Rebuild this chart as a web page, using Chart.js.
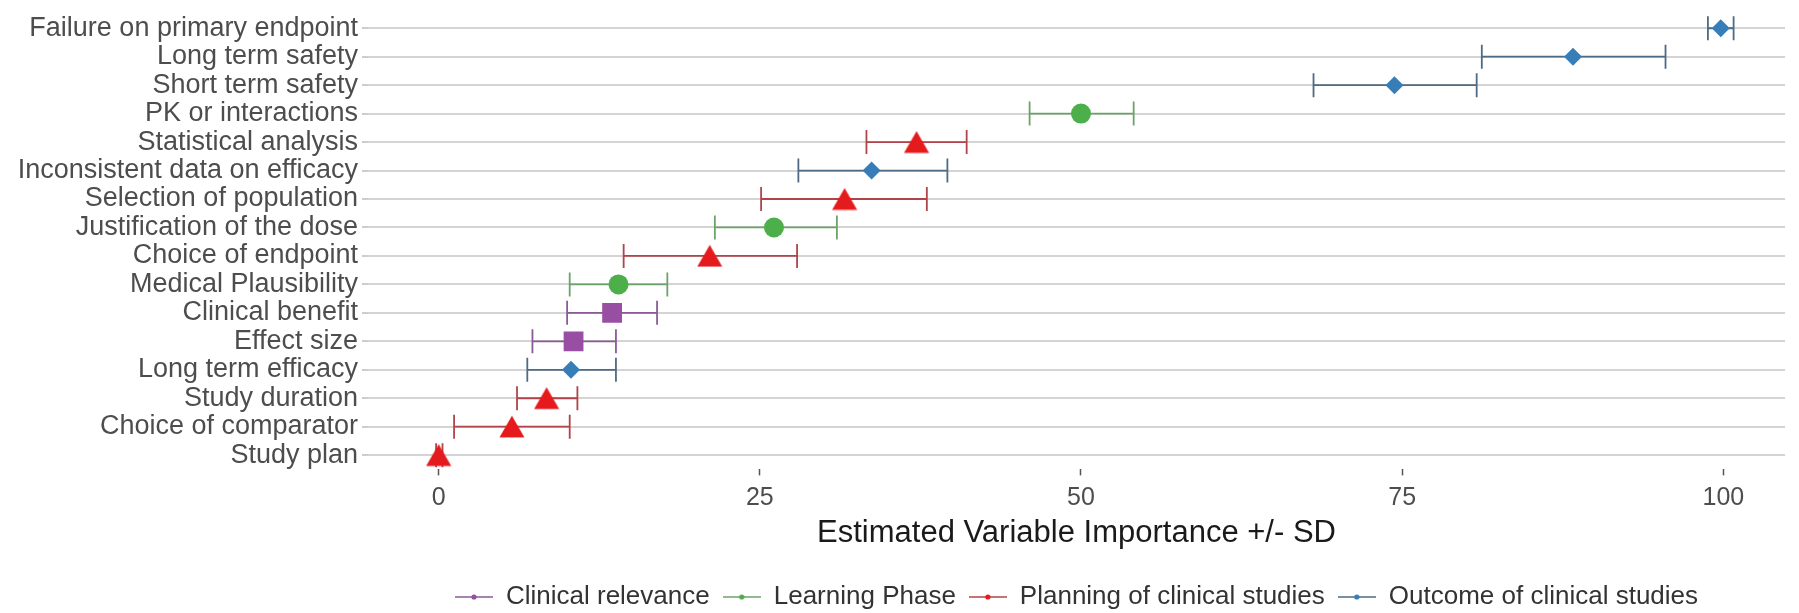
<!DOCTYPE html>
<html>
<head>
<meta charset="utf-8">
<script src="https://cdn.jsdelivr.net/npm/chart.js@4.4.0/dist/chart.umd.min.js"></script>
<style>
  html, body { margin: 0; padding: 0; background: #ffffff; }
  #wrap { width: 1799px; height: 613px; }
</style>
</head>
<body>
<div id="wrap"><canvas id="c" width="1799" height="613"></canvas></div>
<script>
// ---- data ----
const categories = [
  'Failure on primary endpoint', 'Long term safety', 'Short term safety', 'PK or interactions',
  'Statistical analysis', 'Inconsistent data on efficacy', 'Selection of population',
  'Justification of the dose', 'Choice of endpoint', 'Medical Plausibility', 'Clinical benefit',
  'Effect size', 'Long term efficacy', 'Study duration', 'Choice of comparator', 'Study plan'
];
const importance = [99.8, 88.3, 74.4, 50.0, 37.2, 33.7, 31.6, 26.1, 21.1, 14.0, 13.5, 10.5, 10.3, 8.4, 5.7, 0.0];
const lowerSD    = [98.8, 81.2, 68.1, 46.0, 33.3, 28.0, 25.1, 21.5, 14.4, 10.2, 10.0, 7.3, 6.9, 6.1, 1.2, -0.2];
const upperSD    = [100.8, 95.5, 80.8, 54.1, 41.1, 39.6, 38.0, 31.0, 27.9, 17.8, 17.0, 13.8, 13.8, 10.8, 10.2, 0.3];
const groupOf = [
  'Outcome of clinical studies', 'Outcome of clinical studies', 'Outcome of clinical studies', 'Learning Phase',
  'Planning of clinical studies', 'Outcome of clinical studies', 'Planning of clinical studies',
  'Learning Phase', 'Planning of clinical studies', 'Learning Phase', 'Clinical relevance',
  'Clinical relevance', 'Outcome of clinical studies', 'Planning of clinical studies', 'Planning of clinical studies',
  'Planning of clinical studies'
];
const groups = ['Clinical relevance', 'Learning Phase', 'Planning of clinical studies', 'Outcome of clinical studies'];
const xTicks = [0, 25, 50, 75, 100];
const axisTitle = 'Estimated Variable Importance +/- SD';

// ---- marker / legend glyphs ----
function triangleGlyph(color) {
  const cv = document.createElement('canvas');
  cv.width = 26; cv.height = 23;
  const g = cv.getContext('2d');
  g.fillStyle = color;
  g.beginPath(); g.moveTo(0.5, 22.2); g.lineTo(25.5, 22.2); g.lineTo(13, 0.6); g.closePath(); g.fill();
  return cv;
}
function legendGlyph(lineColor, dotColor) {
  const cv = document.createElement('canvas');
  cv.width = 38; cv.height = 8;
  const g = cv.getContext('2d');
  g.strokeStyle = lineColor; g.lineWidth = 1.6;
  g.beginPath(); g.moveTo(0, 4); g.lineTo(38, 4); g.stroke();
  g.fillStyle = dotColor;
  g.beginPath(); g.arc(19, 4, 2.6, 0, Math.PI * 2); g.fill();
  return cv;
}

const groupStyle = {
  'Clinical relevance':           { color: '#984EA3', bar: '#8a5a94', shape: 'rect',     r: 14 },
  'Learning Phase':               { color: '#4DAF4A', bar: '#6da36b', shape: 'circle',   r: 10 },
  'Planning of clinical studies': { color: '#E41A1C', bar: '#b0444a', shape: triangleGlyph('#E41A1C'), r: 13 },
  'Outcome of clinical studies':  { color: '#377EB8', bar: '#4d6b85', shape: 'rectRot',  r: 9 }
};

const datasets = [];
groups.forEach(g => {
  const st = groupStyle[g];
  const idx = categories.map((c, i) => i).filter(i => groupOf[i] === g);
  const barData = [];
  idx.forEach(i => {
    barData.push({ x: lowerSD[i], y: categories[i] });
    barData.push({ x: upperSD[i], y: categories[i] });
    barData.push({ x: null, y: categories[i] });
  });
  datasets.push({
    label: g,
    isBar: true,
    glyph: legendGlyph(st.bar, st.color),
    data: barData,
    showLine: true,
    spanGaps: false,
    borderColor: st.bar,
    backgroundColor: st.bar,
    borderWidth: 1.8,
    pointStyle: 'line',
    pointRotation: 90,
    pointRadius: 12,
    pointBorderColor: st.bar,
    pointBorderWidth: 1.8,
    pointHoverRadius: 12,
    order: 1
  });
  datasets.push({
    label: g + ' points',
    isBar: false,
    data: idx.map(i => ({ x: importance[i], y: categories[i] })),
    showLine: false,
    pointStyle: st.shape,
    pointRadius: st.r,
    pointHoverRadius: st.r,
    backgroundColor: st.color,
    borderColor: st.color,
    pointBorderWidth: 0,
    order: 0
  });
});

Chart.defaults.font.family = "'Liberation Sans', Arial, sans-serif";

new Chart(document.getElementById('c'), {
  type: 'scatter',
  data: { datasets },
  options: {
    responsive: false,
    animation: false,
    devicePixelRatio: 1,
    layout: { padding: { top: 8.6, right: 2, bottom: -7, left: 0 } },
    plugins: {
      tooltip: { enabled: false },
      legend: {
        position: 'bottom',
        fullSize: false,
        labels: {
          font: { size: 26 },
          color: '#333333',
          usePointStyle: true,
          pointStyleWidth: 38,
          boxWidth: 38,
          boxHeight: 8,
          padding: 13,
          generateLabels: (chart) => {
            const base = Chart.defaults.plugins.legend.labels.generateLabels(chart);
            return base
              .filter(it => chart.data.datasets[it.datasetIndex].isBar)
              .map(it => Object.assign({}, it, {
                pointStyle: chart.data.datasets[it.datasetIndex].glyph,
                rotation: 0,
                lineWidth: 0
              }));
          }
        }
      }
    },
    scales: {
      x: {
        type: 'linear',
        position: 'bottom',
        min: -5.5,
        max: 104.8,
        afterBuildTicks: (s) => { s.ticks = xTicks.map(v => ({ value: v })); },
        afterFit: (s) => { s.height = 101.6; },
        ticks: { font: { size: 25 }, color: '#4d4d4d', padding: 8 },
        grid: {
          drawOnChartArea: false,
          drawTicks: true,
          tickLength: 6,
          tickColor: '#555555',
          tickWidth: 1.5
        },
        border: { display: false },
        title: {
          display: true,
          text: axisTitle,
          font: { size: 31 },
          color: '#1a1a1a',
          padding: { top: 0, bottom: 19.4 }
        }
      },
      y: {
        type: 'category',
        labels: categories,
        offset: true,
        afterFit: (s) => { s.width = 368; },
        ticks: { autoSkip: false, font: { size: 27, lineHeight: 0.3 }, color: '#4d4d4d', padding: 4 },
        grid: {
          color: '#d4d4d4',
          lineWidth: 2,
          drawTicks: true,
          tickLength: 6,
          tickColor: '#bdbdbd',
          tickWidth: 1.5
        },
        border: { display: false }
      }
    }
  }
});
</script>
</body>
</html>
